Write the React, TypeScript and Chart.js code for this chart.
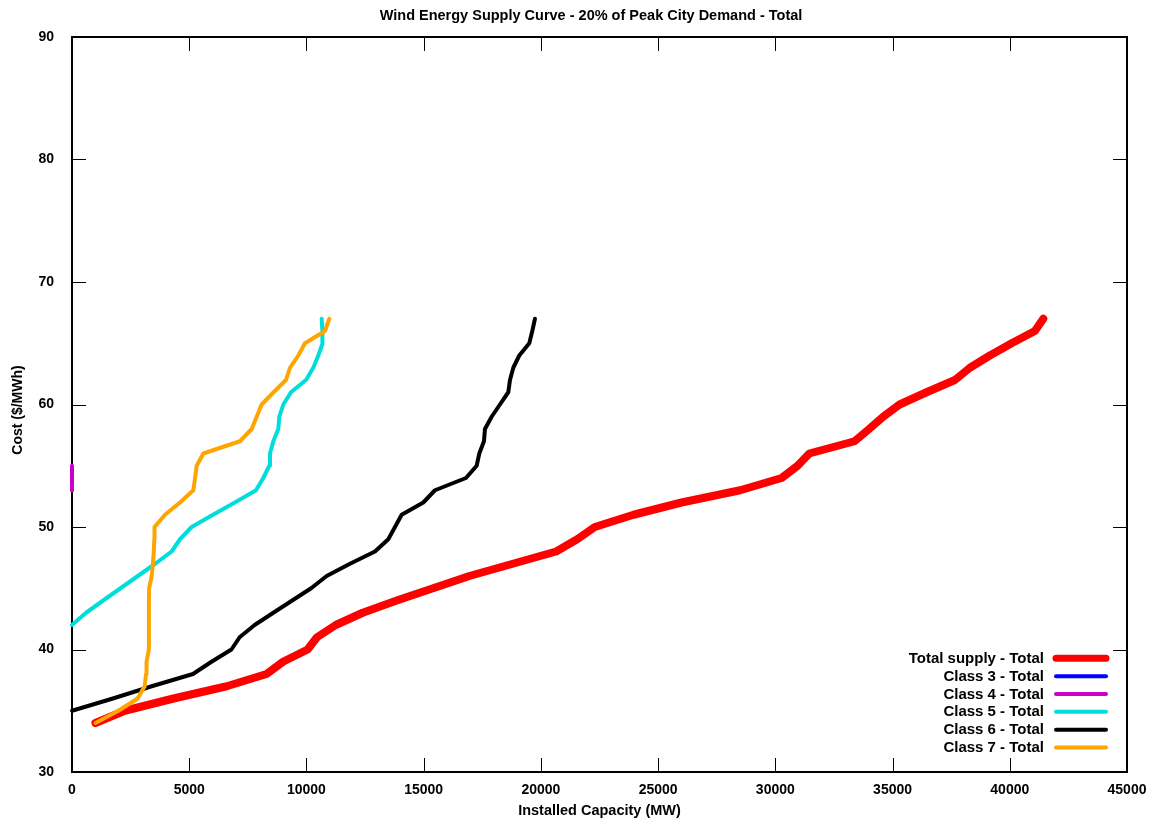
import React, { useEffect, useRef } from "react";
import { Chart, registerables } from "chart.js";

Chart.register(...registerables);

const TITLE = "Wind Energy Supply Curve - 20% of Peak City Demand - Total";
const X_LABEL = "Installed Capacity (MW)";
const Y_LABEL = "Cost ($/MWh)";

const SERIES_NAMES = [
  "Total supply - Total",
  "Class 3 - Total",
  "Class 4 - Total",
  "Class 5 - Total",
  "Class 6 - Total",
  "Class 7 - Total",
];
const SERIES_COLORS = ["#ff0000", "#0000ff", "#cc00cc", "#00dddd", "#000000", "#ffa500"];

// Total supply
const totalCost = [34, 35, 36, 37, 38, 39, 40, 41, 42, 43, 44, 45, 46, 47, 48, 49, 50, 51, 52, 53, 54, 55, 56, 57, 58, 59, 60, 61, 62, 63, 64, 65, 66, 67];
const totalCapacity = [1000, 2250, 4330, 6600, 8300, 9000, 10050, 10450, 11250, 12400, 13850, 15400, 16950, 18800, 20650, 21550, 22300, 23950, 26000, 28500, 30270, 30950, 31450, 33380, 34000, 34600, 35300, 36450, 37660, 38300, 39150, 40080, 41070, 41430];

// Class 3 (no visible capacity)
const class3Cost: number[] = [];
const class3Capacity: number[] = [];

// Class 4
const class4Cost = [53, 54, 55];
const class4Capacity = [0, 0, 0];

// Class 5
const class5Cost = [42, 43, 44, 45, 46, 47, 48, 49, 50, 51, 52, 53, 54, 55, 56, 57, 58, 59, 60, 61, 62, 63, 64, 65, 66, 67];
const class5Capacity = [0, 600, 1330, 2070, 2810, 3550, 4250, 4606, 5104, 6014, 6947, 7848, 8160, 8416, 8445, 8587, 8800, 8842, 9013, 9340, 9980, 10292, 10505, 10692, 10680, 10649];

// Class 6
const class6Cost = [35, 36, 37, 38, 39, 40, 41, 42, 43, 44, 45, 46, 47, 48, 49, 50, 51, 52, 53, 54, 55, 56, 57, 58, 59, 60, 61, 62, 63, 64, 65, 66, 67];
const class6Capacity = [0, 1745, 3400, 5160, 5950, 6800, 7150, 7790, 8587, 9392, 10200, 10863, 11857, 12923, 13491, 13776, 14062, 14983, 15482, 16804, 17260, 17373, 17572, 17614, 17899, 18254, 18610, 18681, 18823, 19078, 19505, 19633, 19747];

// Class 7
const class7Cost = [34, 35, 36, 37, 38, 39, 40, 41, 42, 43, 44, 45, 46, 47, 48, 49, 50, 51, 52, 53, 54, 55, 56, 57, 58, 59, 60, 61, 62, 63, 64, 65, 66, 67];
const class7Capacity = [1000, 1980, 2800, 3100, 3160, 3180, 3280, 3280, 3280, 3280, 3280, 3290, 3400, 3450, 3490, 3510, 3520, 3966, 4606, 5175, 5250, 5317, 5601, 7165, 7664, 7877, 8090, 8600, 9127, 9298, 9653, 9937, 10790, 10974];

const X_MIN = 0;
const X_MAX = 45000;
const X_STEP = 5000;
const Y_MIN = 30;
const Y_MAX = 90;
const Y_STEP = 10;

const FONT_FAMILY = '"Liberation Sans", Arial, Helvetica, sans-serif';

function toPoints(xs: number[], ys: number[]) {
  return xs.map((x, i) => ({ x, y: ys[i] }));
}

const framePlugin = {
  id: "gnuplotFrame",
  beforeDatasetsDraw(chart: any) {
    const { ctx, chartArea: a, scales } = chart;
    const xs = scales.x;
    const ys = scales.y;
    const TL = 14;
    ctx.save();
    ctx.strokeStyle = "#000";
    ctx.lineWidth = 1;
    ctx.beginPath();
    for (const t of xs.ticks) {
      const px = Math.round(xs.getPixelForValue(t.value)) + 0.5;
      ctx.moveTo(px, a.bottom);
      ctx.lineTo(px, a.bottom - TL);
      ctx.moveTo(px, a.top);
      ctx.lineTo(px, a.top + TL);
    }
    for (const t of ys.ticks) {
      const py = Math.round(ys.getPixelForValue(t.value)) + 0.5;
      ctx.moveTo(a.left, py);
      ctx.lineTo(a.left + TL, py);
      ctx.moveTo(a.right, py);
      ctx.lineTo(a.right - TL, py);
    }
    ctx.stroke();
    ctx.lineWidth = 2;
    ctx.strokeRect(a.left, a.top, a.right - a.left, a.bottom - a.top);
    ctx.restore();
  },
  afterDraw(chart: any) {
    const { ctx } = chart;
    ctx.save();
    ctx.fillStyle = "#000";
    ctx.font = `bold 14.5px ${FONT_FAMILY}`;
    ctx.textAlign = "center";
    ctx.textBaseline = "middle";
    ctx.fillText(TITLE, 591, 16);

    // y axis title
    ctx.save();
    ctx.font = `bold 14px ${FONT_FAMILY}`;
    ctx.translate(18, 410);
    ctx.rotate(-Math.PI / 2);
    ctx.fillText(Y_LABEL, 0, 0);
    ctx.restore();

    // legend
    ctx.font = `bold 15px ${FONT_FAMILY}`;
    const textRight = 1044;
    const lineStart = 1056;
    const lineEnd = 1106;
    const rowTop = 658.3;
    const rowGap = 17.85;
    chart.data.datasets.forEach((ds: any, i: number) => {
      const yy = rowTop + i * rowGap;
      ctx.textAlign = "right";
      ctx.fillStyle = "#000";
      ctx.fillText(ds.label, textRight, yy + 0.5);
      ctx.strokeStyle = ds.borderColor;
      ctx.lineWidth = i === 0 ? 7 : 4;
      ctx.lineCap = "round";
      ctx.beginPath();
      ctx.moveTo(lineStart, yy);
      ctx.lineTo(lineEnd, yy);
      ctx.stroke();
    });
    ctx.restore();
  },
};

export default function App() {
  const canvasRef = useRef<HTMLCanvasElement | null>(null);

  useEffect(() => {
    if (!canvasRef.current) return;
    const seriesX = [totalCapacity, class3Capacity, class4Capacity, class5Capacity, class6Capacity, class7Capacity];
    const seriesY = [totalCost, class3Cost, class4Cost, class5Cost, class6Cost, class7Cost];
    const widths = [8, 4, 4, 4, 4, 4];
    const datasets = SERIES_NAMES.map((name, i) => ({
      label: name,
      data: toPoints(seriesX[i], seriesY[i]),
      borderColor: SERIES_COLORS[i],
      backgroundColor: SERIES_COLORS[i],
      borderWidth: widths[i],
      pointRadius: 0,
      pointHoverRadius: 0,
      tension: 0,
      fill: false,
      borderCapStyle: "round" as const,
      borderJoinStyle: "round" as const,
      clip: false as any,
      order: SERIES_NAMES.length - i,
    }));

    const chart = new Chart(canvasRef.current, {
      type: "line",
      data: { datasets },
      plugins: [framePlugin],
      options: {
        animation: false,
        responsive: true,
        maintainAspectRatio: false,
        layout: { padding: { top: 37, right: 26, left: 0, bottom: 0 } },
        plugins: {
          legend: { display: false },
          title: { display: false },
          tooltip: { enabled: false },
        },
        scales: {
          x: {
            type: "linear",
            min: X_MIN,
            max: X_MAX,
            grid: { display: false },
            border: { display: false },
            ticks: {
              stepSize: X_STEP,
              color: "#000",
              font: { family: FONT_FAMILY, size: 14, weight: "bold" },
              padding: 2,
              maxRotation: 0,
              autoSkip: false,
              callback: (v: any) => String(v),
            },
            title: {
              display: true,
              text: X_LABEL,
              color: "#000",
              font: { family: FONT_FAMILY, size: 14.5, weight: "bold" },
              padding: { top: 0, bottom: 4 },
            },
            afterFit(scale: any) {
              scale.height = 52;
            },
          },
          y: {
            type: "linear",
            min: Y_MIN,
            max: Y_MAX,
            grid: { display: false },
            border: { display: false },
            ticks: {
              stepSize: Y_STEP,
              color: "#000",
              font: { family: FONT_FAMILY, size: 14, weight: "bold" },
              padding: 10,
              callback: (v: any) => String(v),
            },
            title: { display: false },
            afterFit(scale: any) {
              scale.width = 72;
            },
          },
        },
      },
    });
    return () => chart.destroy();
  }, []);

  return (
    <div style={{ position: "fixed", left: 0, top: 0, width: 1153, height: 824, background: "#fff" }}>
      <canvas ref={canvasRef} />
    </div>
  );
}
